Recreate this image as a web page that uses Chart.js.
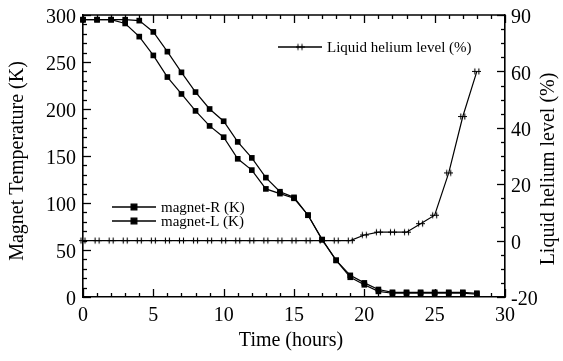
<!DOCTYPE html>
<html>
<head>
<meta charset="utf-8">
<script src="https://cdn.jsdelivr.net/npm/chart.js@4/dist/chart.umd.min.js"></script>
<style>
  html, body { margin: 0; padding: 0; background: #fff; }
  #wrap { width: 563px; height: 361px; }
</style>
</head>
<body>
<div id="wrap"><canvas id="c" width="563" height="361"></canvas></div>
<script>
// ---- data ----
const hours = [0,1,2,3,4,5,6,7,8,9,10,11,12,13,14,15,16,17,18,19,20,21,22,23,24,25,26,27,28];
const magnetR = [295,295,295,295,294,282,261,239,218,200,187,165,148,127,112,106,87,61,39,23,15,8,5,5,5,5,5,5,4];
const magnetL = [295,295,295,291,277,257,234,216,198,182,170,147,135,115,110,105,87,61,39,21,13,6,4,4,4,4,4,4,3];
const heliumHours = [0,1,2,3,4,5,6,7,8,9,10,11,12,13,14,15,16,17,18,19,20,21,22,23,24,25,26,27,28];
const heliumLevel = [0,0,0,0,0,0,0,0,0,0,0,0,0,0,0,0,0,0,0,0,2,3,3,3,6,9,24,44,60];
const rightTickValues = [-20,0,20,40,60,80];
const rightTickLabels = ['-20','0','20','40','60','90'];
const seriesNames = ['magnet-R (K)', 'magnet-L (K)', 'Liquid helium level (%)'];
const axisTitles = {x: 'Time (hours)', y: 'Magnet Temperature (K)', y2: 'Liquid helium level (%)'};

const FONT = "'Liberation Serif', 'Times New Roman', serif";

// custom "‖" marker for helium series
function makeBars() {
  const c = document.createElement('canvas');
  c.width = 9; c.height = 9;
  const g = c.getContext('2d');
  g.strokeStyle = '#000'; g.lineWidth = 1.1;
  g.beginPath();
  g.moveTo(2.5, 1.5); g.lineTo(2.5, 7.5);
  g.moveTo(6.5, 1.5); g.lineTo(6.5, 7.5);
  g.moveTo(0, 4.5); g.lineTo(9, 4.5);
  g.stroke();
  return c;
}
const barsMarker = makeBars();

const pair = (xs, ys) => xs.map((x, i) => ({x, y: ys[i]}));

const innerTicks = {
  id: 'innerTicks',
  afterDraw(chart) {
    const {ctx, chartArea: a, scales} = chart;
    ctx.save();
    ctx.strokeStyle = '#000';
    const seg = (x1, y1, x2, y2) => { ctx.beginPath(); ctx.moveTo(x1, y1); ctx.lineTo(x2, y2); ctx.stroke(); };
    ctx.lineWidth = 1.6;
    seg(a.left, a.top, a.right, a.top);
    ctx.lineWidth = 1.3;
    const xs = scales.x;
    for (let v = xs.min; v <= xs.max; v += 1) {
      const p = Math.round(xs.getPixelForValue(v)) + 0.5;
      const L = v % 5 === 0 ? 8 : 4;
      seg(p, a.bottom, p, a.bottom - L);
      seg(p, a.top, p, a.top + L);
    }
    const yl = scales.y;
    for (let v = yl.min; v <= yl.max; v += 10) {
      const p = Math.round(yl.getPixelForValue(v)) + 0.5;
      const L = v % 50 === 0 ? 8 : 4;
      seg(a.left, p, a.left + L, p);
    }
    const yr = scales.y2;
    for (let v = yr.min; v <= yr.max; v += 5) {
      const p = Math.round(yr.getPixelForValue(v)) + 0.5;
      const L = v % 20 === 0 ? 8 : 4;
      seg(a.right, p, a.right - L, p);
    }
    ctx.restore();
  }
};

const axisTitlePlugin = {
  id: 'axisTitlePlugin',
  afterDraw(chart) {
    const {ctx, chartArea: a} = chart;
    ctx.save();
    ctx.fillStyle = '#000';
    ctx.font = "20px " + FONT;
    ctx.textAlign = 'center';
    ctx.textBaseline = 'middle';
    ctx.fillText(axisTitles.x, (a.left + a.right) / 2 - 3, a.bottom + 44);
    ctx.save();
    ctx.translate(18, (a.top + a.bottom) / 2 + 5);
    ctx.rotate(-Math.PI / 2);
    ctx.fillText(axisTitles.y, 0, 0);
    ctx.restore();
    ctx.save();
    ctx.translate(a.right + 44, (a.top + a.bottom) / 2 + 13);
    ctx.rotate(-Math.PI / 2);
    ctx.fillText(axisTitles.y2, 0, 0);
    ctx.restore();
    ctx.restore();
  }
};

const customLegend = {
  id: 'customLegend',
  afterDraw(chart) {
    const {ctx, chartArea: a} = chart;
    const items = [
      {ds: 2, x1: a.left + 195, y: a.top + 32},
      {ds: 0, x1: a.left + 29, y: a.top + 192},
      {ds: 1, x1: a.left + 29, y: a.top + 206}
    ];
    ctx.save();
    items.forEach(it => {
      const d = chart.data.datasets[it.ds];
      const len = 44;
      ctx.strokeStyle = '#000';
      ctx.lineWidth = 1.3;
      ctx.beginPath();
      ctx.moveTo(it.x1, it.y); ctx.lineTo(it.x1 + len, it.y);
      ctx.stroke();
      Chart.helpers.drawPoint(ctx, {
        pointStyle: d.pointStyle, radius: d.pointRadius, borderWidth: 1, rotation: 0
      }, it.x1 + len / 2, it.y);
      ctx.fillStyle = '#000';
      ctx.font = "15px " + FONT;
      ctx.textAlign = 'left';
      ctx.textBaseline = 'middle';
      ctx.fillText(d.label, it.x1 + len + 5, it.y + 1);
    });
    ctx.restore();
  }
};

const tickFont = {family: FONT, size: 20};

new Chart(document.getElementById('c'), {
  type: 'line',
  data: {
    datasets: [
      {
        label: seriesNames[0], data: pair(hours, magnetR), yAxisID: 'y',
        borderColor: '#000', backgroundColor: '#000', borderWidth: 1.2,
        pointStyle: 'rect', pointRadius: 4, pointBorderWidth: 0, tension: 0, clip: false
      },
      {
        label: seriesNames[1], data: pair(hours, magnetL), yAxisID: 'y',
        borderColor: '#000', backgroundColor: '#000', borderWidth: 1.2,
        pointStyle: 'rect', pointRadius: 4, pointBorderWidth: 0, tension: 0, clip: false
      },
      {
        label: seriesNames[2], data: pair(heliumHours, heliumLevel), yAxisID: 'y2',
        borderColor: '#000', backgroundColor: '#000', borderWidth: 1.2,
        pointStyle: barsMarker, pointRadius: 4, tension: 0, clip: false
      }
    ]
  },
  options: {
    responsive: false,
    animation: false,
    devicePixelRatio: 1,
    layout: {padding: {top: 15, left: 0, right: 0, bottom: 0}},
    plugins: {legend: {display: false}, tooltip: {enabled: false}},
    scales: {
      x: {
        type: 'linear', min: 0, max: 30,
        afterFit: s => { s.height = 64; s.paddingLeft = 0; s.paddingRight = 0; },
        grid: {display: false, drawTicks: false},
        border: {display: true, color: '#000', width: 1.6},
        ticks: {stepSize: 5, color: '#000', font: tickFont, padding: 7, maxRotation: 0},
        title: {display: false}
      },
      y: {
        type: 'linear', position: 'left', min: 0, max: 300,
        afterFit: s => { s.width = 83; s.paddingTop = 0; s.paddingBottom = 0; },
        grid: {display: false, drawTicks: false},
        border: {display: true, color: '#000', width: 1.6},
        ticks: {stepSize: 50, color: '#000', font: tickFont, padding: 7, labelOffset: 3},
        title: {display: false}
      },
      y2: {
        type: 'linear', position: 'right', min: -20, max: 80,
        afterFit: s => { s.width = 58; s.paddingTop = 0; s.paddingBottom = 0; },
        grid: {display: false, drawTicks: false},
        border: {display: true, color: '#000', width: 1.6},
        afterBuildTicks: s => { s.ticks = rightTickValues.map(v => ({value: v})); },
        ticks: {
          color: '#000', font: tickFont, padding: 6, labelOffset: 3,
          callback: v => rightTickLabels[rightTickValues.indexOf(v)]
        },
        title: {display: false}
      }
    }
  },
  plugins: [innerTicks, axisTitlePlugin, customLegend]
});
</script>
</body>
</html>
